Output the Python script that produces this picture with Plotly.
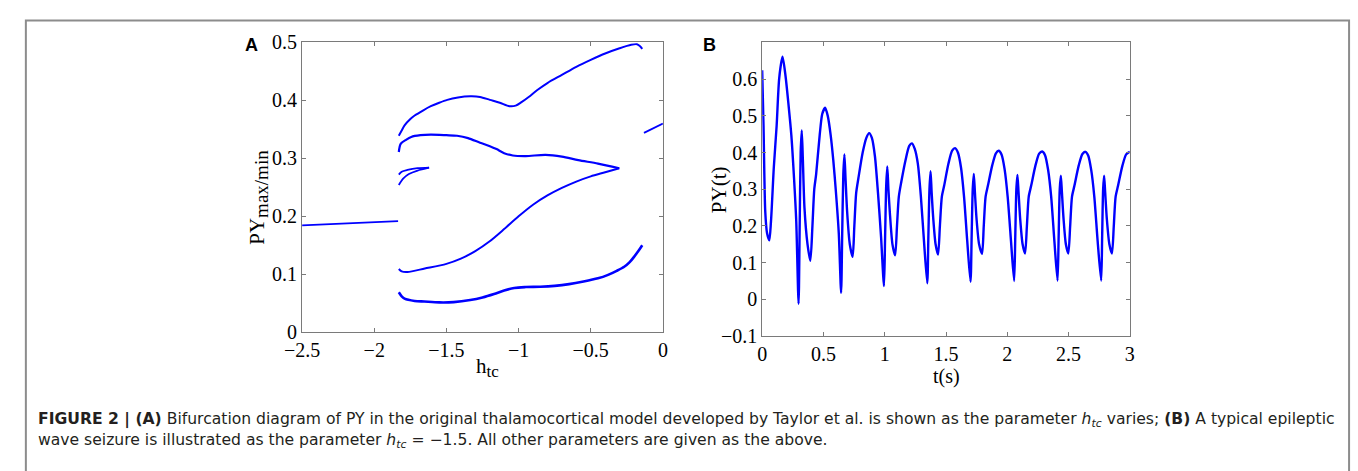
import plotly.graph_objects as go

W, H = 1358, 471

# ---------------- Panel A data (bifurcation diagram) ----------------
stable_left_h = [-2.5, -1.835]
stable_left_y = [0.1845, 0.1917]
stable_right_h = [-0.131, 0.0]
stable_right_y = [0.344, 0.360]

top_h = [-1.83, -1.81, -1.79, -1.75, -1.72, -1.66, -1.608, -1.55, -1.494, -1.42, -1.335,
         -1.267, -1.199, -1.13, -1.063, -1.02, -0.98, -0.93, -0.87, -0.8, -0.7, -0.6,
         -0.5, -0.4, -0.3, -0.22, -0.18, -0.16, -0.143]
top_y = [0.339, 0.348, 0.357, 0.368, 0.374, 0.383, 0.390, 0.396, 0.401, 0.405, 0.407,
         0.406, 0.401, 0.396, 0.390, 0.391, 0.397, 0.406, 0.418, 0.430, 0.444, 0.458,
         0.470, 0.481, 0.490, 0.496, 0.497, 0.494, 0.489]

second_h = [-1.83, -1.817, -1.78, -1.744, -1.68, -1.608, -1.5, -1.426, -1.35, -1.267,
            -1.199, -1.153, -1.1, -1.04, -0.95, -0.813, -0.7, -0.586, -0.45, -0.302]
second_y = [0.311, 0.325, 0.332, 0.337, 0.340, 0.341, 0.340, 0.339, 0.335, 0.327,
            0.321, 0.316, 0.309, 0.305, 0.304, 0.306, 0.303, 0.297, 0.291, 0.283]

third_h = [-1.83, -1.81, -1.77, -1.65, -1.5, -1.4, -1.3, -1.2, -1.1, -1.0, -0.9, -0.8,
           -0.7, -0.6, -0.5, -0.4, -0.302]
third_y = [0.109, 0.105, 0.104, 0.110, 0.118, 0.127, 0.140, 0.157, 0.178, 0.200, 0.220,
           0.236, 0.249, 0.260, 0.269, 0.276, 0.283]

small_up_h = [-1.83, -1.81, -1.77, -1.70, -1.62]
small_up_y = [0.272, 0.277, 0.280, 0.283, 0.284]
small_lo_h = [-1.83, -1.80, -1.76, -1.70, -1.62]
small_lo_y = [0.254, 0.265, 0.273, 0.279, 0.284]

bottom_h = [-1.83, -1.81, -1.79, -1.72, -1.653, -1.55, -1.45, -1.335, -1.25, -1.17,
            -1.1, -1.03, -0.95, -0.85, -0.75, -0.65, -0.55, -0.45, -0.38, -0.32, -0.268,
            -0.23, -0.2, -0.17, -0.143]
bottom_y = [0.069, 0.062, 0.058, 0.054, 0.053, 0.0515, 0.052, 0.0555, 0.060, 0.066,
            0.072, 0.0765, 0.078, 0.0785, 0.080, 0.083, 0.0875, 0.093, 0.099, 0.106, 0.113,
            0.121, 0.130, 0.140, 0.150]

a_xticks = [-2.5, -2, -1.5, -1, -0.5, 0]
a_xticktext = ["\u22122.5", "\u22122", "\u22121.5", "\u22121", "\u22120.5", "0"]
a_yticks = [0, 0.1, 0.2, 0.3, 0.4, 0.5]
a_yticktext = ["0", "0.1", "0.2", "0.3", "0.4", "0.5"]

# ---------------- Panel B data (time series) ----------------
t_vals = [0.0, 0.011, 0.025, 0.04, 0.058, 0.072, 0.095, 0.118, 0.139, 0.166, 0.19, 0.215,
          0.238, 0.26, 0.278, 0.297,
          0.306, 0.314, 0.323, 0.332, 0.345, 0.37, 0.393, 0.41, 0.425, 0.44, 0.47, 0.49,
          0.513, 0.535, 0.559, 0.58, 0.60, 0.625, 0.644,
          0.653, 0.662, 0.671, 0.68, 0.693, 0.715, 0.738, 0.752, 0.767, 0.785, 0.82, 0.85,
          0.873, 0.895, 0.92, 0.945, 0.97, 0.994,
          1.003, 1.012, 1.021, 1.03, 1.043, 1.063, 1.085, 1.10, 1.115, 1.135, 1.17, 1.20,
          1.222, 1.245, 1.27, 1.295, 1.32, 1.347,
          1.356, 1.365, 1.374, 1.383, 1.396, 1.415, 1.435, 1.45, 1.466, 1.485, 1.52, 1.55,
          1.574, 1.597, 1.622, 1.647, 1.673, 1.70,
          1.709, 1.718, 1.727, 1.736, 1.749, 1.77, 1.794, 1.808, 1.823, 1.842, 1.877, 1.907,
          1.93, 1.953, 1.978, 2.003, 2.03, 2.056,
          2.065, 2.074, 2.083, 2.092, 2.105, 2.125, 2.145, 2.16, 2.175, 2.195, 2.23, 2.26,
          2.285, 2.308, 2.333, 2.358, 2.384, 2.41,
          2.419, 2.428, 2.437, 2.446, 2.459, 2.478, 2.498, 2.513, 2.528, 2.548, 2.583, 2.613,
          2.637, 2.66, 2.685, 2.71, 2.737, 2.766,
          2.774, 2.782, 2.79, 2.799, 2.812, 2.833, 2.854, 2.869, 2.884, 2.904, 2.94, 2.97,
          3.0]
py_vals = [0.624, 0.473, 0.24, 0.18, 0.161, 0.213, 0.36, 0.473, 0.603, 0.661, 0.61, 0.53,
           0.447, 0.33, 0.213, -0.012,
           0.20, 0.40, 0.46, 0.38, 0.25, 0.15, 0.105, 0.20, 0.30, 0.34, 0.45, 0.505,
           0.522, 0.50, 0.447, 0.38, 0.30, 0.18, 0.018,
           0.18, 0.34, 0.395, 0.33, 0.24, 0.15, 0.116, 0.20, 0.29, 0.33, 0.40, 0.44,
           0.453, 0.44, 0.39, 0.29, 0.17, 0.036,
           0.17, 0.31, 0.362, 0.30, 0.23, 0.15, 0.120, 0.20, 0.28, 0.32, 0.38, 0.418,
           0.425, 0.41, 0.37, 0.28, 0.16, 0.044,
           0.17, 0.30, 0.349, 0.29, 0.22, 0.15, 0.122, 0.20, 0.28, 0.31, 0.37, 0.405,
           0.412, 0.40, 0.36, 0.28, 0.16, 0.048,
           0.17, 0.30, 0.342, 0.29, 0.22, 0.15, 0.124, 0.20, 0.28, 0.31, 0.365, 0.398,
           0.405, 0.395, 0.355, 0.28, 0.16, 0.050,
           0.17, 0.30, 0.339, 0.29, 0.22, 0.15, 0.125, 0.20, 0.28, 0.31, 0.365, 0.397,
           0.403, 0.393, 0.353, 0.28, 0.16, 0.051,
           0.17, 0.30, 0.337, 0.29, 0.22, 0.15, 0.125, 0.20, 0.28, 0.31, 0.365, 0.396,
           0.402, 0.392, 0.352, 0.28, 0.16, 0.051,
           0.17, 0.30, 0.337, 0.29, 0.22, 0.15, 0.125, 0.20, 0.28, 0.31, 0.365, 0.395,
           0.402]

b_xticks = [0, 0.5, 1, 1.5, 2, 2.5, 3]
b_xticktext = ["0", "0.5", "1", "1.5", "2", "2.5", "3"]
b_yticks = [-0.1, 0, 0.1, 0.2, 0.3, 0.4, 0.5, 0.6]
b_yticktext = ["\u22120.1", "0", "0.1", "0.2", "0.3", "0.4", "0.5", "0.6"]

caption_line1 = ("<b>FIGURE 2 | (A)</b> Bifurcation diagram of PY in the original thalamocortical model "
                 "developed by Taylor et al. is shown as the parameter <i>h<sub>tc</sub></i> varies; "
                 "<b>(B)</b> A typical epileptic")
caption_line2 = ("wave seizure is illustrated as the parameter <i>h<sub>tc</sub></i> = \u22121.5. "
                 "All other parameters are given as the above.")

BLUE = "rgb(0,0,255)"

def px(x):
    return x / W

def py(y):
    return 1 - y / H

fig = go.Figure()

def add_a(hs, ys, width=2.0):
    fig.add_trace(go.Scatter(x=hs, y=ys, mode="lines", xaxis="x", yaxis="y",
                             line=dict(color=BLUE, width=width, shape="spline", smoothing=0.8),
                             showlegend=False, hoverinfo="skip"))

add_a(stable_left_h, stable_left_y, 1.8)
add_a(stable_right_h, stable_right_y, 1.8)
add_a(top_h, top_y, 2.0)
add_a(second_h, second_y, 2.2)
add_a(third_h, third_y, 2.0)
add_a(small_up_h, small_up_y, 1.8)
add_a(small_lo_h, small_lo_y, 1.8)
add_a(bottom_h, bottom_y, 2.6)

fig.add_trace(go.Scatter(x=t_vals, y=py_vals, mode="lines", xaxis="x2", yaxis="y2",
                         line=dict(color=BLUE, width=2.4, shape="spline", smoothing=0.7),
                         showlegend=False, hoverinfo="skip"))

tickfont = dict(family="Liberation Serif, Times New Roman, serif", size=20, color="black")
axcommon = dict(showline=True, linecolor="#7a7a7a", linewidth=1, mirror="ticks",
                ticks="inside", ticklen=4, tickcolor="#7a7a7a", tickwidth=1,
                showgrid=False, zeroline=False, tickfont=tickfont, fixedrange=True)

fig.update_layout(
    width=W, height=H,
    margin=dict(l=0, r=0, t=0, b=0),
    paper_bgcolor="white", plot_bgcolor="white",
    xaxis=dict(domain=[px(289), px(656)], range=[-2.5, 0], tickvals=a_xticks,
               ticktext=a_xticktext, anchor="y", **axcommon),
    yaxis=dict(domain=[py(337), py(33)], range=[0, 0.5], tickvals=a_yticks,
               ticktext=a_yticktext, anchor="x", **axcommon),
    xaxis2=dict(domain=[px(757), px(1131)], range=[0, 3], tickvals=b_xticks,
                ticktext=b_xticktext, anchor="y2", **axcommon),
    yaxis2=dict(domain=[py(341), py(33)], range=[-0.1, 0.7], tickvals=b_yticks,
                ticktext=b_yticktext, anchor="x2", **axcommon),
)

serif = "Liberation Serif, Times New Roman, serif"
sans = "Liberation Sans, Arial, Helvetica, sans-serif"
capfont = "DejaVu Sans, Liberation Sans, sans-serif"

ann = [
    dict(text="<b>A</b>", x=px(238), y=py(36), font=dict(family=sans, size=18, color="black")),
    dict(text="<b>B</b>", x=px(703), y=py(36), font=dict(family=sans, size=18, color="black")),
    dict(text="PY<sub><span style='font-size:19px'>max/min</span></sub>", x=px(245), y=py(195),
         textangle=-90, font=dict(family=serif, size=21, color="black")),
    dict(text="h<sub><span style='font-size:17px'>tc</span></sub>", x=px(478), y=py(374),
         font=dict(family=serif, size=21, color="black")),
    dict(text="PY(t)", x=px(713), y=py(187), textangle=-90,
         font=dict(family=serif, size=21, color="black")),
    dict(text="t(s)", x=px(944), y=py(383),
         font=dict(family=serif, size=20, color="black")),
    dict(text=caption_line1, x=px(18), y=py(429), xanchor="left",
         font=dict(family=capfont, size=15.6, color="#231f20")),
    dict(text=caption_line2, x=px(18), y=py(451), xanchor="left",
         font=dict(family=capfont, size=15.6, color="#231f20")),
]
for a in ann:
    a.setdefault("xanchor", "center")
    a.update(xref="paper", yref="paper", showarrow=False, yanchor="middle")
fig.update_layout(annotations=ann)

# Figure frame (open at the bottom, cropped)
fig.add_shape(type="path", xref="paper", yref="paper",
              path=f"M {px(8)},-0.2 L {px(8)},{py(10)} L {px(1354)},{py(10)} L {px(1354)},-0.2",
              line=dict(color="#8c8c8c", width=2))

fig.write_html("out.html", config={"displayModeBar": False},
               post_script="document.body.style.margin='0';document.body.style.overflow='hidden';")
